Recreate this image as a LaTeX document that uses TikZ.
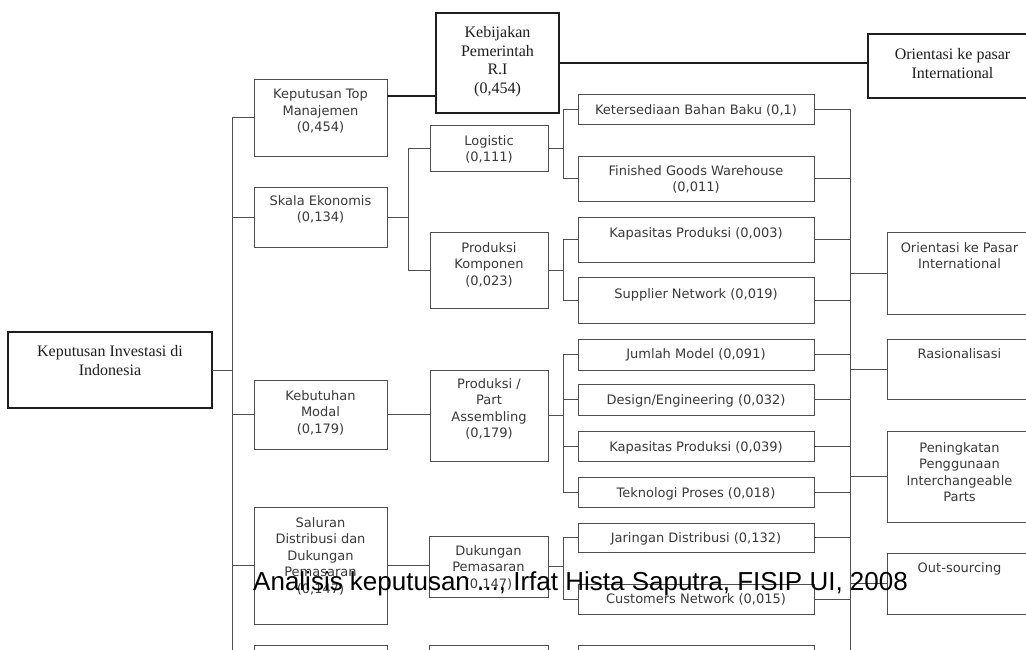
\documentclass[tikz,border=0pt]{standalone}
\usepackage{fontspec}
\setmainfont{Liberation Serif}
\newfontfamily\verd{DejaVu Sans}
\newfontfamily\arialf{Liberation Sans}
\definecolor{lineg}{HTML}{4E4E4E}
\definecolor{txtg}{HTML}{3A3A3A}
\definecolor{darkk}{HTML}{1E1E1E}

% thin grey box: name, x1, y1, x2, y2, first baseline, text
\newcommand\gbox[7]{%
  \node[gframe, minimum width={(#4)-(#2)}, minimum height={(#5)-(#3)}]
    (#1) at ({((#2)+(#4))/2},{((#3)+(#5))/2}) {};
  \node[gtext, anchor=north] (#1t) at ({((#2)+(#4))/2},{(#6)-10}) {#7};}
% heavy box with serif text: name, x1, y1, x2, y2, first baseline, text
\newcommand\tbox[7]{%
  \node[tframe, minimum width={(#4)-(#2)}, minimum height={(#5)-(#3)}]
    (#1) at ({((#2)+(#4))/2},{((#3)+(#5))/2}) {};
  \node[ttext, anchor=north] (#1t) at ({((#2)+(#4))/2},{(#6)-12}) {#7};}

\begin{document}
\begin{tikzpicture}[x=1pt, y=-1pt,
  gframe/.style={draw=lineg, line width=0.9pt, fill=white, inner sep=0pt, outer sep=0pt, rectangle},
  gtext/.style={font=\verd\fontsize{13}{16.5}\selectfont, text=txtg, align=center,
                inner sep=0pt, execute at begin node={\rule{0pt}{10pt}}},
  tframe/.style={draw=darkk, line width=2.2pt, fill=white, inner sep=0pt, outer sep=0pt, rectangle},
  ttext/.style={font=\fontsize{16}{18.7}\selectfont, text=darkk, align=center,
                inner sep=0pt, execute at begin node={\rule{0pt}{12pt}}},
  link/.style={draw=lineg, line width=0.9pt},
  tlink/.style={draw=darkk, line width=2pt}]
\useasboundingbox (0,0) rectangle (1026,649);
\begin{scope}
\clip (0,0) rectangle (1026,649);

% trunks and forks
\coordinate (T1) at (232,0);
\coordinate (T1end) at (232,700);
\coordinate (F1) at (408,0);
\coordinate (F2) at (563,0);
\coordinate (RT) at (850,0);
\coordinate (RTend) at (850,700);

% root and top boxes
\tbox{R}{8}{332}{212}{408}{357}{Keputusan Investasi di\\Indonesia}
\tbox{KP}{436}{13}{559}{113}{38}{Kebijakan\\Pemerintah\\R.I\\(0,454)}
\tbox{OI}{868}{34}{1037}{98}{60}{Orientasi ke pasar\\International}

% first level
\gbox{TM}{254}{79}{387}{156}{99}{Keputusan Top\\Manajemen\\(0,454)}
\gbox{SE}{254}{187}{387}{247}{205}{Skala Ekonomis\\(0,134)}
\gbox{KM}{254}{380}{387}{449}{400}{Kebutuhan\\Modal\\(0,179)}
\gbox{SD}{254}{507}{387}{624}{527}{Saluran\\Distribusi dan\\Dukungan\\Pemasaran\\(0,147)}
\gbox{BA}{254}{645}{387}{700}{662}{}

% second level
\gbox{LG}{430}{125}{548}{171}{145}{Logistic\\(0,111)}
\gbox{PK}{430}{232}{548}{308}{252}{Produksi\\Komponen\\(0,023)}
\gbox{PA}{430}{370}{548}{461}{388}{Produksi /\\Part\\Assembling\\(0,179)}
\gbox{DP}{429}{536}{548}{597}{555}{Dukungan\\Pemasaran\\(0,147)}
\gbox{BB}{429}{645}{548}{700}{662}{}

% third level
\gbox{KB}{578}{94}{814}{124}{114}{Ketersediaan Bahan Baku (0,1)}
\gbox{FG}{578}{156}{814}{201}{175}{Finished Goods Warehouse\\(0,011)}
\gbox{KA}{578}{217}{814}{262}{237}{Kapasitas Produksi (0,003)}
\gbox{SN}{578}{277}{814}{323}{298}{Supplier Network (0,019)}
\gbox{JM}{578}{339}{814}{370}{358}{Jumlah Model (0,091)}
\gbox{DE}{578}{384}{814}{415}{404}{Design/Engineering (0,032)}
\gbox{KC}{578}{431}{814}{461}{451}{Kapasitas Produksi (0,039)}
\gbox{TP}{578}{477}{814}{507}{497}{Teknologi Proses (0,018)}
\gbox{JD}{578}{523}{814}{552}{542}{Jaringan Distribusi (0,132)}
\gbox{CN}{578}{584}{814}{614}{603}{Customers Network (0,015)}
\gbox{BC}{578}{645}{814}{700}{662}{}

% outcomes
\gbox{OP}{887}{232}{1032}{314}{252}{Orientasi ke Pasar\\International}
\gbox{RA}{887}{339}{1032}{399}{358}{Rasionalisasi}
\gbox{PP}{887}{431}{1032}{522}{452}{Peningkatan\\Penggunaan\\Interchangeable\\Parts}
\gbox{OS}{887}{553}{1032}{614}{572}{Out-sourcing}

% left trunk
\draw[link] (TM.west) -| (T1end);
\draw[link] (R.east) -- (R.east -| T1);
\foreach \n in {SE,KM,SD} \draw[link] (\n.west) -- (\n.west -| T1);

% Skala Ekonomis fork
\draw[link] (SE.east) -- (SE.east -| F1);
\draw[link] (LG.west) -- (LG.west -| F1) -- (PK.west -| F1) -- (PK.west);
% direct links
\draw[link] (KM.east) -- (KM.east -| PA.west);
\draw[link] (SD.east) -- (SD.east -| DP.west);

% second-level forks
\draw[link] (LG.east) -- (LG.east -| F2);
\draw[link] (KB.west) -- (KB.west -| F2) -- (FG.west -| F2) -- (FG.west);
\draw[link] (PK.east) -- (PK.east -| F2);
\draw[link] (KA.west) -- (KA.west -| F2) -- (SN.west -| F2) -- (SN.west);
\draw[link] (PA.east) -- (PA.east -| F2);
\draw[link] (JM.west) -- (JM.west -| F2) -- (TP.west -| F2) -- (TP.west);
\draw[link] (DE.west) -- (DE.west -| F2);
\draw[link] (KC.west) -- (KC.west -| F2);
\draw[link] (DP.east) -- (DP.east -| F2);
\draw[link] (JD.west) -- (JD.west -| F2) -- (CN.west -| F2) -- (CN.west);

% right trunk
\draw[link] (KB.east) -| (RTend);
\foreach \n in {FG,KA,SN,JM,DE,KC,TP,JD,CN} \draw[link] (\n.east) -- (\n.east -| RT);
\foreach \n in {OP,RA,PP,OS} \draw[link] (\n.west -| RT) -- (\n.west);

% heavy links
\coordinate (TMo) at ([yshift=-17pt]TM.north east);
\draw[tlink] (TMo) -- (TMo -| KP.west);
\draw[tlink] (KP.east) -- (KP.east -| OI.west);

% caption line over the chart
\node[anchor=base west, inner sep=0pt, font=\arialf\fontsize{26}{30}\selectfont, text=black]
  (wm) at (253,590) {Analisis keputusan ..., Irfat Hista Saputra, FISIP UI, 2008};
\end{scope}
\end{tikzpicture}
\end{document}
